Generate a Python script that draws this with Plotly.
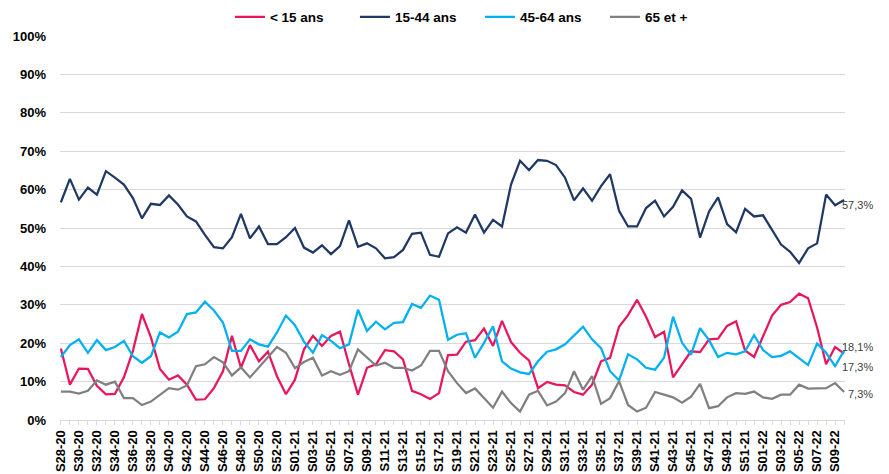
import plotly.graph_objects as go

weeks = (["S%02d-20" % w for w in range(28, 54)]
         + ["S%02d-21" % w for w in range(1, 53)]
         + ["S%02d-22" % w for w in range(1, 11)])

lt15 = [18.6, 9.2, 13.4, 13.3, 8.9, 6.7, 6.8, 11.1, 18.0, 27.6, 21.5, 13.3, 10.5, 11.6, 9.2, 5.3,
        5.4, 8.3, 12.7, 21.9, 13.6, 19.5, 15.3, 17.8, 11.4, 6.7, 10.5, 18.4, 21.9, 19.3, 21.9, 23.0,
        14.5, 6.6, 13.6, 14.5, 18.2, 17.9, 15.8, 7.6, 6.7, 5.5, 7.0, 16.9, 17.0, 20.4, 20.8, 23.8,
        19.3, 25.8, 20.3, 17.5, 15.5, 8.3, 9.9, 9.2, 9.0, 7.3, 6.6, 9.2, 15.3, 16.2, 24.3, 27.3,
        31.3, 26.9, 21.6, 23.0, 11.1, 14.5, 17.9, 17.7, 21.0, 21.2, 24.5, 25.7, 18.1, 16.4, 21.9,
        27.2, 30.0, 30.7, 32.9, 31.7, 24.1, 14.5, 19.0, 17.3]

a15_44 = [56.7, 62.8, 57.4, 60.5, 58.7, 64.8, 63.1, 61.3, 57.8, 52.5, 56.3, 56.0, 58.5, 56.1, 53.0,
          51.7, 48.2, 45.0, 44.7, 47.6, 53.7, 47.3, 50.4, 45.8, 45.8, 47.6, 50.0, 44.9, 43.6, 45.5,
          43.2, 45.3, 52.0, 45.1, 46.0, 44.7, 42.1, 42.4, 44.3, 48.5, 48.8, 43.0, 42.5, 48.6, 50.2,
          48.8, 53.5, 48.8, 52.1, 50.4, 61.3, 67.5, 65.1, 67.7, 67.5, 66.4, 63.1, 57.2, 60.3, 57.1,
          60.9, 64.0, 54.5, 50.4, 50.4, 55.2, 57.1, 53.0, 55.5, 59.8, 57.6, 47.5, 54.3, 58.0, 51.0,
          48.9, 55.0, 53.0, 53.3, 49.5, 45.7, 43.8, 40.9, 44.7, 46.0, 58.7, 55.9, 57.3]

a45_64 = [16.4, 19.5, 21.0, 17.5, 20.8, 18.2, 19.0, 20.6, 16.6, 14.9, 16.6, 22.8, 21.5, 23.0, 27.6,
          28.0, 30.8, 28.5, 25.4, 18.0, 18.0, 21.0, 19.7, 19.1, 22.8, 27.2, 24.7, 20.4, 17.5, 22.1,
          20.6, 18.7, 19.7, 28.7, 23.2, 25.6, 23.6, 25.3, 25.5, 30.2, 29.2, 32.4, 31.3, 20.9, 22.2,
          22.6, 16.2, 20.1, 24.4, 15.3, 13.4, 12.4, 12.0, 15.3, 17.8, 18.4, 19.7, 21.9, 24.3, 21.0,
          18.7, 12.7, 10.3, 17.1, 15.8, 13.6, 13.1, 16.2, 26.9, 20.1, 17.0, 23.9, 20.8, 16.4, 17.5,
          17.1, 17.9, 22.1, 18.2, 16.4, 16.7, 17.9, 16.0, 14.3, 19.9, 17.5, 14.0, 18.1]

a65 = [7.4, 7.4, 6.9, 7.6, 10.3, 9.2, 10.0, 5.7, 5.7, 3.9, 4.8, 6.6, 8.3, 7.9, 9.0, 14.0, 14.5,
       16.4, 15.0, 11.6, 13.7, 11.1, 13.7, 16.2, 19.0, 17.5, 13.5, 15.1, 16.2, 11.6, 12.7, 11.8,
       12.7, 18.4, 16.2, 14.2, 14.9, 13.6, 13.6, 12.9, 14.2, 18.0, 18.0, 12.7, 9.6, 7.0, 8.2, 5.7,
       3.2, 7.4, 4.4, 2.2, 6.6, 7.6, 3.8, 4.8, 7.0, 12.7, 7.9, 11.4, 4.2, 5.7, 10.1, 3.9, 2.2, 3.2,
       7.3, 6.6, 5.9, 4.5, 6.1, 9.4, 3.1, 3.6, 5.9, 7.0, 6.8, 7.4, 5.9, 5.5, 6.6, 6.6, 9.2, 8.2,
       8.3, 8.3, 9.6, 7.3]

series_names = ["< 15 ans", "15-44 ans", "45-64 ans", "65 et +"]
series_values = [lt15, a15_44, a45_64, a65]
series_colors = ["#E8175D", "#203864", "#00B0F0", "#808080"]
y_ticks = [0, 10, 20, 30, 40, 50, 60, 70, 80, 90, 100]
y_ticktext = ["%d%%" % v for v in y_ticks]
x_ticktext = [w if i % 2 == 0 else "" for i, w in enumerate(weeks)]

FONT = "Liberation Sans, Arial, sans-serif"

fig = go.Figure()
for name, vals, col in zip(series_names, series_values, series_colors):
    fig.add_trace(go.Scatter(x=weeks, y=vals, name=name, mode="lines",
                             line=dict(color=col, width=2.25)))

# end labels
label_specs = [(a15_44, -5), (a45_64, 4), (lt15, -13), (a65, -2)]
for vals, ysh in label_specs:
    v = vals[-1]
    fig.add_annotation(x=weeks[-1], y=v, xref="x", yref="y",
                       text=("%.1f" % v).replace(".", ",") + "%",
                       showarrow=False, xanchor="right", yanchor="middle",
                       xshift=31, yshift=ysh,
                       font=dict(family=FONT, size=11, color="#404040"))

fig.update_layout(
    width=889, height=474,
    margin=dict(l=60, r=44, t=36, b=54, autoexpand=False),
    paper_bgcolor="white", plot_bgcolor="white",
    font=dict(family=FONT, color="#000000"),
    showlegend=True,
    legend=dict(orientation="h", x=0.2165, xanchor="left", y=1.049, yanchor="middle",
                font=dict(family=FONT, size=13.5, color="#000000", weight="bold"),
                entrywidth=80, entrywidthmode="pixels",
                bgcolor="rgba(0,0,0,0)", traceorder="normal"),
    xaxis=dict(type="category", range=[-0.1, 87.1], tickmode="array",
               tickvals=weeks, ticktext=x_ticktext, tickangle=-90,
               ticks="outside", ticklen=4, tickcolor="#d9d9d9",
               showgrid=False, showline=True, linecolor="#d9d9d9", zeroline=False,
               tickfont=dict(family=FONT, size=13, color="#000000", weight="bold")),
    yaxis=dict(range=[0, 100], tickmode="array", tickvals=y_ticks, ticktext=y_ticktext,
               showgrid=True, gridcolor="#d9d9d9", gridwidth=1, zeroline=False,
               showline=False, ticks="", ticklabelstandoff=13,
               tickfont=dict(family=FONT, size=13, color="#000000", weight="bold")),
)

fig.write_html("out.html", config={"displayModeBar": False},
               post_script="document.body.style.margin='0';document.body.style.overflow='hidden';")
